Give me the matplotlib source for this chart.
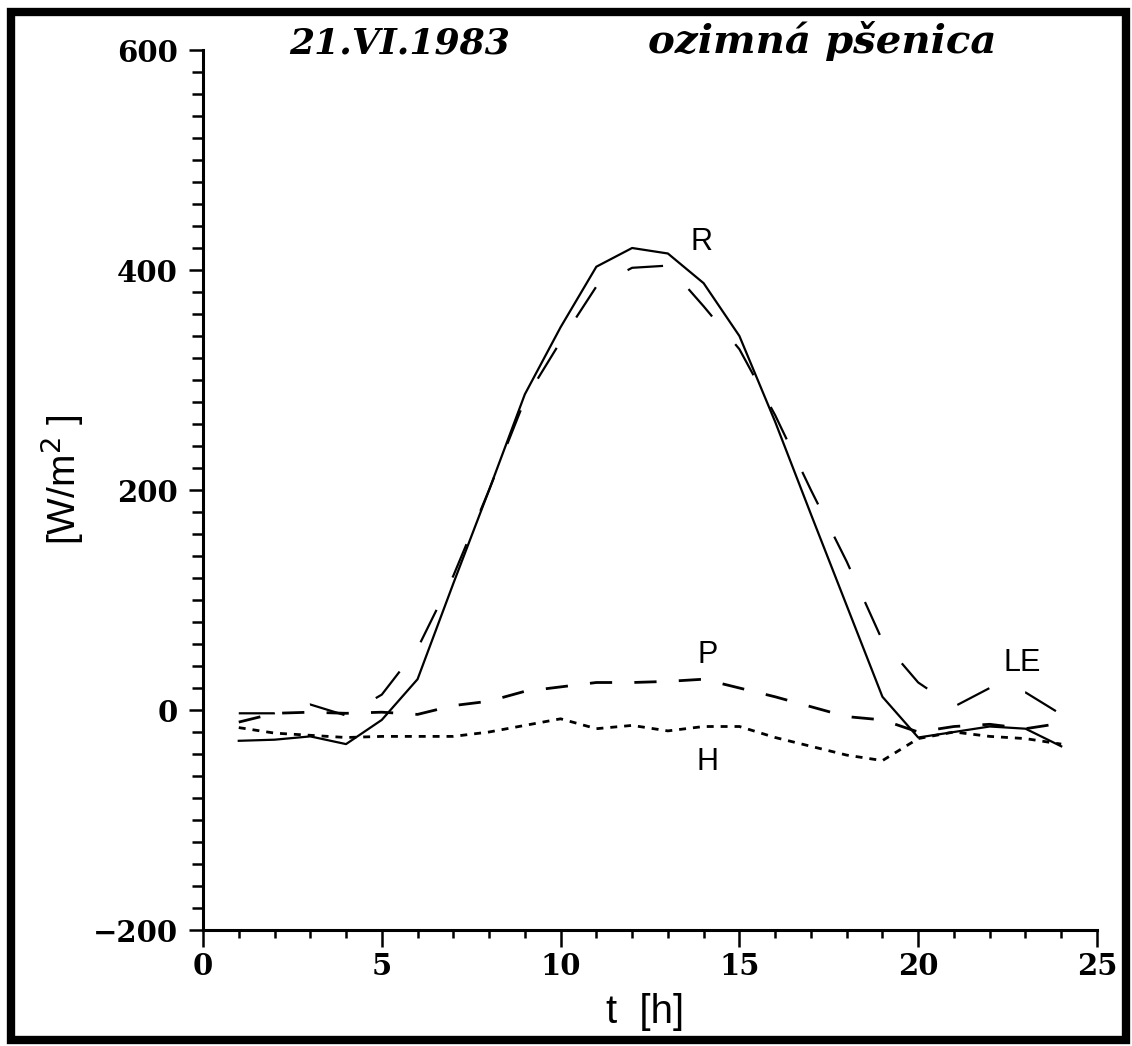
import matplotlib
matplotlib.use("Agg")
import matplotlib.pyplot as plt
from matplotlib.patches import Rectangle
from matplotlib.ticker import MultipleLocator

plt.rcParams['lines.scale_dashes'] = False

# ---- data ----
hours = list(range(1, 25))
R_vals = [-28, -27, -24, -31, -9, 28, 115, 200, 287, 348, 403, 420,
          415, 388, 340, 262, 178, 95, 12, -25, -20, -15, -17, -33]
LE_vals = [-3, -3, 5, -5, 14, 56, 122, 200, 282, 335, 385, 402,
           404, 367, 328, 268, 200, 135, 63, 25, 3, 20, 16, -4]
P_vals = [-11, -3, -2, -3, -2, -4, 4, 8, 17, 21, 25, 25,
          26, 28, 20, 12, 3, -6, -9, -20, -15, -13, -17, -12]
H_vals = [-16, -21, -23, -25, -24, -24, -24, -20, -14, -8, -17, -14,
          -19, -15, -15, -25, -33, -41, -46, -26, -20, -24, -26, -31]

x_ticks = [0, 5, 10, 15, 20, 25]
y_ticks = [-200, 0, 200, 400, 600]
title_date = "21.VI.1983"
title_crop = "ozimná pšenica"
x_label = "t  [h]"
y_label = "[W/m$^2$ ]"
curve_labels = [("R", 13.95, 425), ("P", 14.1, 50), ("H", 14.1, -47), ("LE", 22.9, 43)]

W, H = 1132, 1046
fig = plt.figure(figsize=(W / 100, H / 100), dpi=100)
ax = fig.add_axes([203 / W, 1 - 930 / H, (1097 - 203) / W, (930 - 50) / H])

ax.plot(hours, R_vals, color='black', lw=1.6, solid_joinstyle='round')
ax.plot(hours, LE_vals, color='black', lw=1.6, dashes=(26, 26))
ax.plot(hours, P_vals, color='black', lw=2.0, dashes=(16, 16))
ax.plot(hours, H_vals, color='black', lw=2.0, dashes=(5, 5))

ax.set_xlim(0, 25)
ax.set_ylim(-200, 600)
for s in ['top', 'right']:
    ax.spines[s].set_visible(False)
for s in ['left', 'bottom']:
    ax.spines[s].set_linewidth(2.2)

ax.set_xticks(x_ticks)
ax.set_yticks(y_ticks)
ax.set_yticklabels([("\u2212" + str(-v)) if v < 0 else str(v) for v in y_ticks])
ax.xaxis.set_minor_locator(MultipleLocator(1))
ax.yaxis.set_minor_locator(MultipleLocator(20))
ax.tick_params(axis='x', which='major', direction='out', length=12, width=1.8, pad=4)
ax.tick_params(axis='x', which='minor', direction='out', length=6, width=1.8)
ax.tick_params(axis='y', which='major', direction='out', length=10, width=1.8, pad=8)
ax.tick_params(axis='y', which='minor', direction='out', length=8, width=1.8)
for lab in ax.get_xticklabels() + ax.get_yticklabels():
    lab.set_fontfamily('DejaVu Serif')
    lab.set_fontweight('bold')
    lab.set_fontsize(21)

for txt, xv, yv in curve_labels:
    ax.text(xv, yv, txt, ha='center', va='center', fontsize=22,
            family='Liberation Sans')

fig.text(400 / W, 1 - 53 / H, title_date, ha='center', va='baseline',
         family='DejaVu Serif', style='italic', weight='bold', fontsize=26)
fig.text(822 / W, 1 - 53 / H, title_crop, ha='center', va='baseline',
         family='DejaVu Serif', style='italic', weight='bold', fontsize=29)

fig.text(645 / W, 1 - 1012 / H, x_label, ha='center', va='center',
         family='Liberation Sans', fontsize=29)
fig.text(62 / W, 1 - 480 / H, y_label, ha='center', va='center', rotation=90,
         family='Liberation Sans', fontsize=28)

fig.patches.append(Rectangle((11 / W, 1 - 1040 / H), (1126 - 11) / W, (1040 - 12) / H,
                             transform=fig.transFigure, fill=False,
                             edgecolor='black', linewidth=6))

fig.savefig("out.png", dpi=100, facecolor='white')
